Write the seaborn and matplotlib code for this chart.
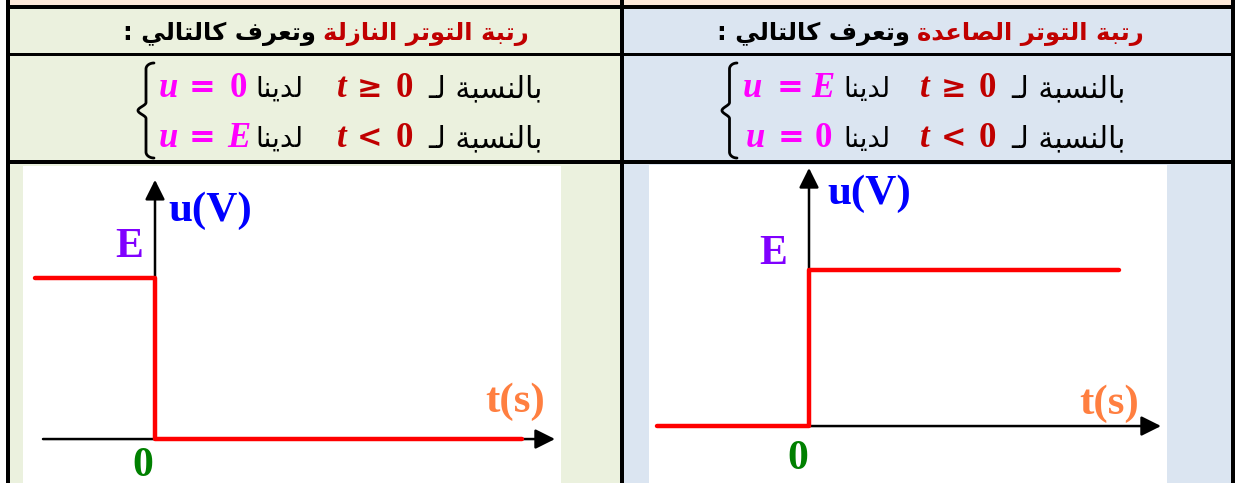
import numpy as np
import seaborn as sns
import matplotlib.pyplot as plt
from matplotlib.patches import Rectangle

# ---- data: unit steps, E = 1
E = 1.0
fall_t = [-1.2, 0.0, 0.0, 3.67]
fall_u = [E, E, 0.0, 0.0]
rise_t = [-1.52, 0.0, 0.0, 3.1]
rise_u = [0.0, 0.0, E, E]

head_fall = ["رتبة التوتر النازلة", "وتعرف كالتالي :"]
head_rise = ["رتبة التوتر الصاعدة", "وتعرف كالتالي :"]
word_for = "بالنسبة لـ"
word_have = "لدينا"

# ---- small arabic shaper (matplotlib has no shaping)
AR_FORMS = {
    'ا': ('\ufe8d', '\ufe8e', None, None),
    'ب': ('\ufe8f', '\ufe90', '\ufe91', '\ufe92'),
    'ة': ('\ufe93', '\ufe94', None, None),
    'ت': ('\ufe95', '\ufe96', '\ufe97', '\ufe98'),
    'د': ('\ufea9', '\ufeaa', None, None),
    'ر': ('\ufead', '\ufeae', None, None),
    'ز': ('\ufeaf', '\ufeb0', None, None),
    'س': ('\ufeb1', '\ufeb2', '\ufeb3', '\ufeb4'),
    'ص': ('\ufeb9', '\ufeba', '\ufebb', '\ufebc'),
    'ع': ('\ufec9', '\ufeca', '\ufecb', '\ufecc'),
    'ف': ('\ufed1', '\ufed2', '\ufed3', '\ufed4'),
    'ك': ('\ufed9', '\ufeda', '\ufedb', '\ufedc'),
    'ل': ('\ufedd', '\ufede', '\ufedf', '\ufee0'),
    'ن': ('\ufee5', '\ufee6', '\ufee7', '\ufee8'),
    'و': ('\ufeed', '\ufeee', None, None),
    'ي': ('\ufef1', '\ufef2', '\ufef3', '\ufef4'),
}
TATWEEL = 'ـ'


def joins(c):
    return c == TATWEEL or c in AR_FORMS


def joins_next(c):
    return c == TATWEEL or (c in AR_FORMS and AR_FORMS[c][2] is not None)


def shape_ar(s):
    out = []
    i = 0
    while i < len(s):
        c = s[i]
        link_prev = i > 0 and joins_next(s[i - 1]) and joins(c)
        if c == 'ل' and i + 1 < len(s) and s[i + 1] == 'ا':
            out.append('\ufefc' if link_prev else '\ufefb')
            i += 2
            continue
        if c not in AR_FORMS:
            out.append(c)
            i += 1
            continue
        iso, fin, ini, med = AR_FORMS[c]
        nxt = s[i + 1] if i + 1 < len(s) else ''
        link_next = ini is not None and nxt != '' and joins(nxt)
        if link_prev and link_next:
            out.append(med)
        elif link_prev:
            out.append(fin)
        elif link_next:
            out.append(ini)
        else:
            out.append(iso)
        i += 1
    return ''.join(reversed(out))


sns.set_theme(style="white")
plt.rcParams['font.family'] = ['DejaVu Sans']

W, H = 1236, 483
fig = plt.figure(figsize=(W / 100, H / 100), dpi=100)
fig.patch.set_facecolor("white")
renderer = fig.canvas.get_renderer()

bg = fig.add_axes([0, 0, 1, 1])
bg.set_xlim(0, W)
bg.set_ylim(H, 0)
bg.axis("off")


def box(x0, y0, x1, y1, color):
    bg.add_patch(Rectangle((x0, y0), x1 - x0, y1 - y0, color=color, lw=0))


# cell backgrounds
box(10, 0, 1231, 5, "#FDE9D9")
box(10, 9, 620, 483, "#EBF1DE")
box(624, 9, 1231, 483, "#DBE5F1")
# grid lines
box(6, 5, 1235, 9, "black")
box(6, 53, 1235, 56, "black")
box(6, 160, 1235, 164, "black")
for xa, xb in [(6, 10), (620, 624), (1231, 1235)]:
    box(xa, 0, xb, H, "black")


def fit_text(x, y, s, width, ha, color, weight="normal", size=16):
    t = bg.text(x, y, s, ha=ha, va="baseline", color=color,
                fontsize=size, fontweight=weight, family=["DejaVu Sans"])
    w = t.get_window_extent(renderer).width
    t.set_fontsize(size * width / w)
    return t


def header(xc, parts, size=17.5, gap=7):
    red = bg.text(0, 40, shape_ar(parts[0]), ha="left", va="baseline",
                  color="#C00000", fontsize=size, fontweight="bold")
    blk = bg.text(0, 40, shape_ar(parts[1]), ha="right", va="baseline",
                  color="black", fontsize=size, fontweight="bold")
    wr = red.get_window_extent(renderer).width
    wb = blk.get_window_extent(renderer).width
    split = xc - (wr + wb + gap) / 2 + wb
    blk.set_x(split)
    red.set_x(split + gap)


header(326, head_fall)
header(930, head_rise)

MATH = ["Liberation Serif", "DejaVu Serif"]


def m(x, y, s, color, italic=False, size=25, family=MATH):
    bg.text(x, y, s, ha="center", va="baseline", color=color, fontsize=size,
            fontweight="bold", style="italic" if italic else "normal",
            family=family)


def formula_line(y, xs, u_val, rel, u_italic):
    xu, xeq, xv, xh, xt, xr, x0, xend = xs
    m(xu, y, "u", "#FF00FF", True)
    m(xeq, y, "=", "#FF00FF", size=23, family=["DejaVu Serif"])
    m(xv, y, u_val, "#FF00FF", u_italic)
    fit_text(xh[1], y, shape_ar(word_have), xh[1] - xh[0], "right", "black")
    m(xt, y, "t", "#C00000", True)
    m(xr, y, rel, "#C00000", size=22, family=["DejaVu Serif"])
    m(x0, y, "0", "#C00000")
    fit_text(xend[1], y, shape_ar(word_for), xend[1] - xend[0], "right", "black")


formula_line(97, (168, 202, 238, (255, 303), 342, 370, 404, (429, 543)), "0", "≥", False)
formula_line(147, (168, 202, 239, (255, 303), 342, 370, 404, (429, 543)), "E", "<", True)
formula_line(97, (752, 790, 823, (843, 890), 925, 953, 987, (1012, 1126)), "E", "≥", True)
formula_line(147, (755, 791, 823, (843, 890), 925, 953, 987, (1012, 1126)), "0", "<", False)


def brace(x0, x1, y0, y1):
    ym = (y0 + y1) / 2
    xm = (x0 + x1) / 2
    tt = np.linspace(0, 1, 30)
    # top hook, stem, middle point, stem, bottom hook
    top = np.column_stack([x1 - (x1 - xm) * np.sin(tt * np.pi / 2), y0 + 6 * (1 - np.cos(tt * np.pi / 2))])
    mid1 = np.column_stack([xm - (xm - x0) * np.sin(tt * np.pi / 2) ** 2, ym - 8 + 8 * tt])
    mid2 = mid1[::-1].copy()
    mid2[:, 1] = 2 * ym - mid2[:, 1]
    bot = top[::-1].copy()
    bot[:, 1] = y0 + y1 - bot[:, 1]
    pts = np.vstack([top, [[xm, ym - 8]], mid1, mid2, [[xm, y1 - 6]], bot])
    bg.plot(pts[:, 0], pts[:, 1], color="black", lw=2.0, solid_capstyle="round")


brace(138, 154, 63, 158)
brace(722, 737, 63, 158)


def step_panel(rect, xlim, ylim, t, u, xaxis, ytop, labels):
    ax = fig.add_axes(rect)
    ax.set_facecolor("white")
    ax.set_xlim(*xlim)
    ax.set_ylim(*ylim)
    ax.set_xticks([])
    ax.set_yticks([])
    for sp in ax.spines.values():
        sp.set_visible(False)
    arrow = dict(arrowstyle="-|>,head_length=0.6,head_width=0.3", color="black",
                 lw=1.8, mutation_scale=20, shrinkA=0, shrinkB=0)
    ax.annotate("", xy=(xaxis[1], 0), xytext=(xaxis[0], 0), arrowprops=arrow)
    ax.annotate("", xy=(0, ytop), xytext=(0, 0), arrowprops=arrow)
    sns.lineplot(x=t, y=u, ax=ax, sort=False, estimator=None, color="#FF0000",
                 lw=3.2, zorder=5)
    serif = ["Liberation Serif", "DejaVu Serif"]
    (uvx, uvy), (ex, ey), (tsx, tsy), (zx, zy) = labels
    ax.text(uvx, uvy, "u(V)", color="#0000FF", fontsize=31, fontweight="bold",
            family=serif, ha="left", va="center")
    ax.text(ex, ey, "E", color="#8000FF", fontsize=30, fontweight="bold",
            family=serif, ha="right", va="center")
    ax.text(tsx, tsy, "t(s)", color="#FF7F40", fontsize=31, fontweight="bold",
            family=serif, ha="center", va="center")
    ax.text(zx, zy, "0", color="#008000", fontsize=30, fontweight="bold",
            family=serif, ha="center", va="center")
    return ax


step_panel([23 / W, 0, 538 / W, 317 / H], (-1.32, 4.06), (-0.273, 1.696),
           fall_t, fall_u, (-1.12, 4.0), 1.61,
           [(0.13, 1.42), (-0.12, 1.19), (3.6, 0.23), (-0.12, -0.17)])
step_panel([649 / W, 0, 518 / W, 318 / H], (-1.60, 3.58), (-0.365, 1.673),
           rise_t, rise_u, (-1.52, 3.52), 1.654,
           [(0.18, 1.49), (-0.22, 1.10), (3.0, 0.14), (-0.11, -0.21)])

fig.savefig("out.png", dpi=100)
